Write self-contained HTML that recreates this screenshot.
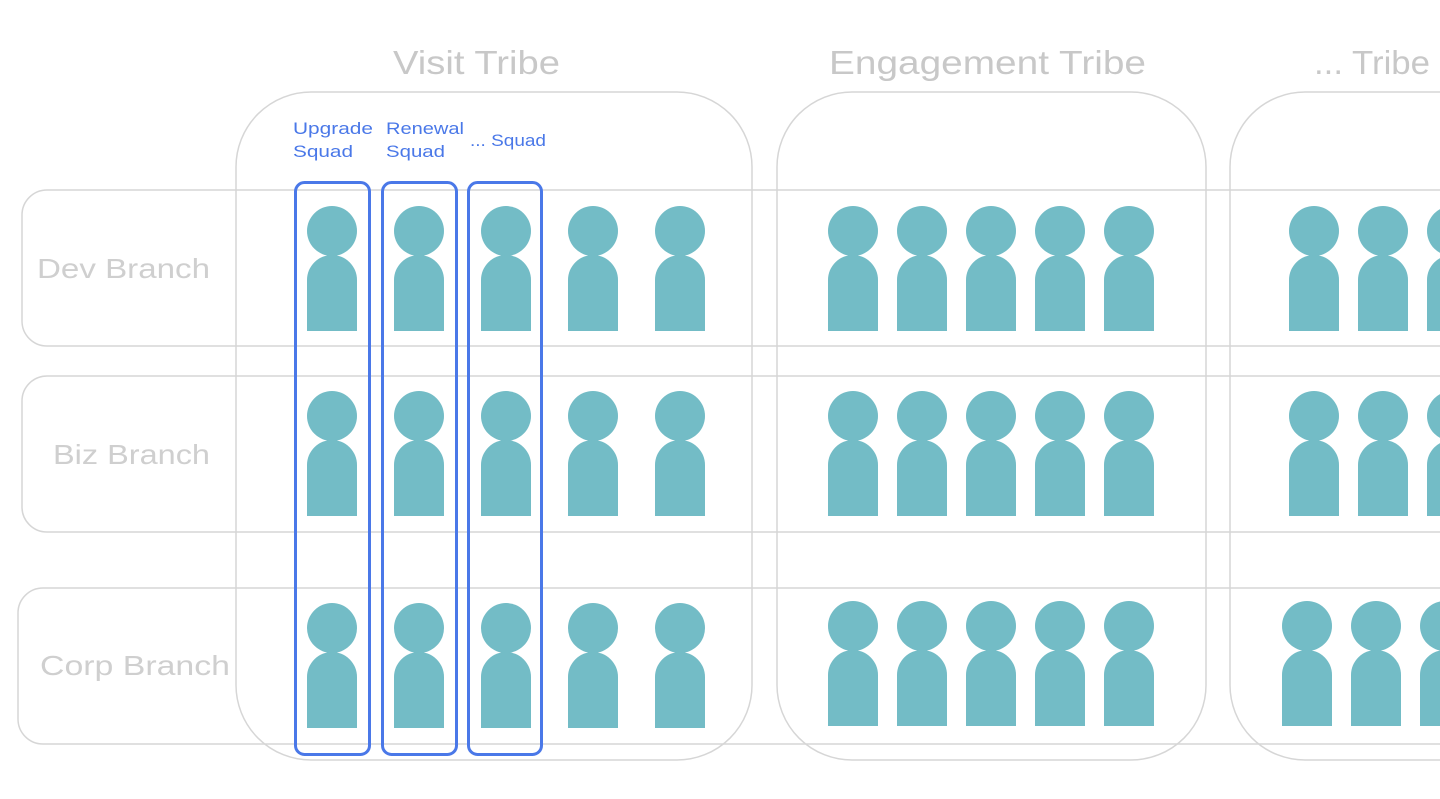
<!DOCTYPE html>
<html><head><style>
body{margin:0;width:1440px;height:794px;overflow:hidden;background:#fff;font-family:"Liberation Sans",sans-serif}
</style></head><body>
<svg width="1440" height="794" viewBox="0 0 1440 794" xmlns="http://www.w3.org/2000/svg">
<defs>
<g id="p"><circle cx="0" cy="0" r="25" fill="#73bcc6"/><path d="M-25 100 V49 A25 25 0 0 1 25 49 V100 Z" fill="#73bcc6"/></g>
</defs>
<g fill="none" stroke="#d6d6d6" stroke-width="1.5">
<path d="M1445 190 H47 A25 25 0 0 0 22 215 V321 A25 25 0 0 0 47 346 H1445"/>
<path d="M1445 376 H47 A25 25 0 0 0 22 401 V507 A25 25 0 0 0 47 532 H1445"/>
<path d="M1445 588 H43 A25 25 0 0 0 18 613 V719 A25 25 0 0 0 43 744 H1445"/>
<rect x="236" y="92" width="516" height="668" rx="75"/>
<rect x="777" y="92" width="429" height="668" rx="75"/>
<rect x="1230" y="92" width="400" height="668" rx="75"/>
</g>
<g font-size="33" fill="#c8c8c8" lengthAdjust="spacingAndGlyphs">
<text x="393" y="74" textLength="167" lengthAdjust="spacingAndGlyphs">Visit Tribe</text>
<text x="829" y="74" textLength="317" lengthAdjust="spacingAndGlyphs">Engagement Tribe</text>
<text x="1314" y="74" textLength="116" lengthAdjust="spacingAndGlyphs">... Tribe</text>
</g>
<g font-size="28" fill="#cfcfcf">
<text x="37" y="278" textLength="173" lengthAdjust="spacingAndGlyphs">Dev Branch</text>
<text x="53" y="464" textLength="157" lengthAdjust="spacingAndGlyphs">Biz Branch</text>
<text x="40" y="675" textLength="190" lengthAdjust="spacingAndGlyphs">Corp Branch</text>
</g>
<g font-size="17" fill="#4a78e8">
<text x="293" y="134" textLength="80" lengthAdjust="spacingAndGlyphs">Upgrade</text><text x="293" y="157" textLength="60" lengthAdjust="spacingAndGlyphs">Squad</text>
<text x="386" y="134" textLength="78" lengthAdjust="spacingAndGlyphs">Renewal</text><text x="386" y="157" textLength="59" lengthAdjust="spacingAndGlyphs">Squad</text>
<text x="470" y="146" textLength="76" lengthAdjust="spacingAndGlyphs">... Squad</text>
</g>
<g>
<use href="#p" x="332" y="231"/><use href="#p" x="419" y="231"/><use href="#p" x="506" y="231"/><use href="#p" x="593" y="231"/><use href="#p" x="680" y="231"/>
<use href="#p" x="853" y="231"/><use href="#p" x="922" y="231"/><use href="#p" x="991" y="231"/><use href="#p" x="1060" y="231"/><use href="#p" x="1129" y="231"/>
<use href="#p" x="1314" y="231"/><use href="#p" x="1383" y="231"/><use href="#p" x="1452" y="231"/>
<use href="#p" x="332" y="416"/><use href="#p" x="419" y="416"/><use href="#p" x="506" y="416"/><use href="#p" x="593" y="416"/><use href="#p" x="680" y="416"/>
<use href="#p" x="853" y="416"/><use href="#p" x="922" y="416"/><use href="#p" x="991" y="416"/><use href="#p" x="1060" y="416"/><use href="#p" x="1129" y="416"/>
<use href="#p" x="1314" y="416"/><use href="#p" x="1383" y="416"/><use href="#p" x="1452" y="416"/>
<use href="#p" x="332" y="628"/><use href="#p" x="419" y="628"/><use href="#p" x="506" y="628"/><use href="#p" x="593" y="628"/><use href="#p" x="680" y="628"/>
<use href="#p" x="853" y="626"/><use href="#p" x="922" y="626"/><use href="#p" x="991" y="626"/><use href="#p" x="1060" y="626"/><use href="#p" x="1129" y="626"/>
<use href="#p" x="1307" y="626"/><use href="#p" x="1376" y="626"/><use href="#p" x="1445" y="626"/>
</g>
<g fill="none" stroke="#4a78e8" stroke-width="3">
<rect x="295.5" y="182.5" width="74" height="572" rx="9"/>
<rect x="382.5" y="182.5" width="74" height="572" rx="9"/>
<rect x="468.5" y="182.5" width="73" height="572" rx="9"/>
</g>
</svg>
</body></html>
